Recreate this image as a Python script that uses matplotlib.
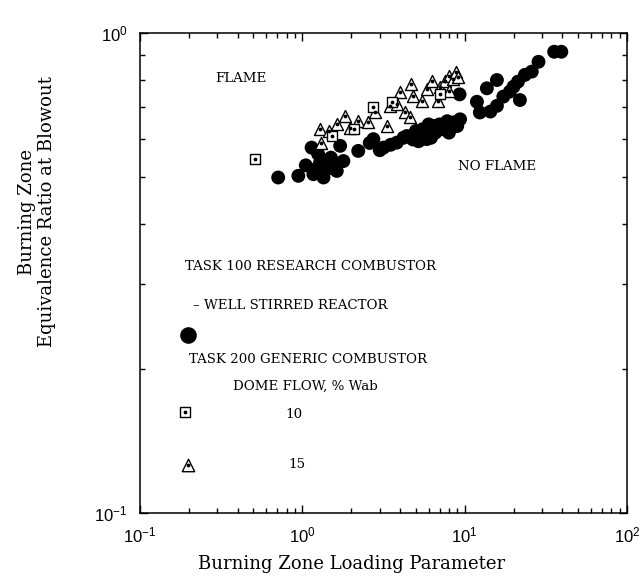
import matplotlib
matplotlib.use("Agg")
import matplotlib.pyplot as plt
from matplotlib.ticker import LogLocator, NullFormatter

# Task 100 research combustor - well stirred reactor (filled circles)
task100_load = [0.71, 0.945, 1.14, 1.17, 1.285, 1.41, 1.63, 1.71, 1.79, 2.21,
                2.74, 3.16, 3.82, 4.40, 5.31, 5.84, 6.41, 7.39, 8.51, 9.37,
                9.3, 12.4, 11.9, 13.7, 15.8, 17.3, 19.0, 20.0, 21.3, 21.9,
                23.5, 25.9, 28.5, 35.6, 39.4, 14.4, 15.8, 1.25, 1.5, 1.05,
                1.35, 1.6, 1.2, 2.6, 3.0, 5.0, 5.5, 6.0, 6.6, 7.0,
                7.8, 8.0, 9.0, 6.2, 4.8, 5.2, 3.5, 4.2]
task100_phi = [0.50, 0.504, 0.577, 0.508, 0.537, 0.520, 0.516, 0.582, 0.541, 0.568,
               0.601, 0.577, 0.591, 0.610, 0.620, 0.601, 0.640, 0.630, 0.651, 0.661,
               0.745, 0.683, 0.719, 0.767, 0.798, 0.737, 0.755, 0.773, 0.792, 0.725,
               0.818, 0.831, 0.871, 0.914, 0.914, 0.686, 0.705, 0.56, 0.55, 0.53,
               0.50, 0.53, 0.52, 0.59, 0.57, 0.625, 0.63, 0.645, 0.62, 0.645,
               0.655, 0.62, 0.64, 0.605, 0.60, 0.595, 0.585, 0.605]

# Task 200 generic combustor, dome flow 10 % Wab (squares)
dome10_load = [0.511, 2.74, 2.07, 3.55, 1.52, 7.06]
dome10_phi = [0.546, 0.700, 0.630, 0.717, 0.610, 0.746]

# Task 200 generic combustor, dome flow 15 % Wab (triangles)
dome15_load = [1.285, 1.31, 1.45, 1.63, 1.83, 1.97, 2.21, 2.54, 2.79, 3.31,
               3.46, 3.82, 3.99, 4.27, 4.70, 4.82, 5.43, 5.84, 6.29, 6.87,
               7.06, 7.59, 7.97, 8.51, 8.89, 9.14, 7.97, 4.62]
dome15_phi = [0.630, 0.591, 0.625, 0.646, 0.672, 0.635, 0.656, 0.651, 0.683, 0.640,
              0.705, 0.711, 0.752, 0.683, 0.783, 0.740, 0.722, 0.764, 0.795, 0.722,
              0.770, 0.795, 0.814, 0.802, 0.828, 0.808, 0.758, 0.667]

serif = ["DejaVu Serif"]
sans = ["Liberation Sans", "DejaVu Sans"]
note_size = 9.6

fig = plt.figure(figsize=(6.44, 5.77), dpi=100)
ax = fig.add_axes([140 / 644, 1 - 513 / 577, 487 / 644, 480 / 577])
ax.set_xscale("log")
ax.set_yscale("log")
ax.set_xlim(0.1, 100)
ax.set_ylim(0.1, 1)

ax.scatter(task100_load, task100_phi, s=100, c="black", edgecolors="none", zorder=2)
ax.scatter(dome15_load, dome15_phi, s=75, marker="^", facecolors="white",
           edgecolors="black", linewidths=1.0, zorder=3)
ax.scatter(dome15_load, dome15_phi, s=3, marker="o", c="black", zorder=4)
ax.scatter(dome10_load, dome10_phi, s=55, marker="s", facecolors="white",
           edgecolors="black", linewidths=1.0, zorder=3)
ax.scatter(dome10_load, dome10_phi, s=3, marker="o", c="black", zorder=4)

# ticks on all four sides, pointing inward
ax.tick_params(which="both", direction="in", top=True, right=True, width=1.0)
ax.tick_params(which="major", length=6, labelsize=12, pad=9)
ax.tick_params(which="minor", length=3.5)
ax.xaxis.set_minor_locator(LogLocator(base=10, subs=range(2, 10)))
ax.yaxis.set_minor_locator(LogLocator(base=10, subs=range(2, 10)))
ax.xaxis.set_minor_formatter(NullFormatter())
ax.yaxis.set_minor_formatter(NullFormatter())
for lab in ax.get_xticklabels() + ax.get_yticklabels():
    lab.set_family(sans)
for sp in ax.spines.values():
    sp.set_linewidth(1.1)

ax.set_xlabel("Burning Zone Loading Parameter", family=serif, fontsize=13)
ax.xaxis.set_label_coords(0.435, -0.088)
ax.set_ylabel("Burning Zone\nEquivalence Ratio at Blowout", family=serif,
              fontsize=13, linespacing=1.15)
ax.yaxis.set_label_coords(-0.172, 0.627)

tr = ax.transAxes
ax.text(0.154, 0.906, "FLAME", transform=tr, family=serif, fontsize=note_size,
        va="center", ha="left")
ax.text(0.653, 0.721, "NO FLAME", transform=tr, family=serif, fontsize=note_size,
        va="center", ha="left")

ax.text(0.092, 0.513, "TASK 100 RESEARCH COMBUSTOR", transform=tr, family=serif,
        fontsize=note_size, va="center", ha="left")
ax.text(0.109, 0.433, "\u2013 WELL STIRRED REACTOR", transform=tr, family=serif,
        fontsize=note_size, va="center", ha="left")
ax.scatter([0.0986], [0.371], s=120, c="black", transform=tr, clip_on=False)
ax.text(0.1006, 0.319, "TASK 200 GENERIC COMBUSTOR", transform=tr, family=serif,
        fontsize=note_size, va="center", ha="left")
ax.text(0.191, 0.263, "DOME FLOW, % Wab", transform=tr, family=serif,
        fontsize=note_size, va="center", ha="left")
ax.scatter([0.0924], [0.210], s=60, marker="s", facecolors="white",
           edgecolors="black", linewidths=1.0, transform=tr)
ax.scatter([0.0924], [0.210], s=3, c="black", transform=tr)
ax.text(0.298, 0.206, "10", transform=tr, family=serif, fontsize=note_size,
        va="center", ha="left")
ax.scatter([0.0986], [0.100], s=80, marker="^", facecolors="white",
           edgecolors="black", linewidths=1.0, transform=tr)
ax.scatter([0.0986], [0.100], s=3, c="black", transform=tr)
ax.text(0.304, 0.102, "15", transform=tr, family=serif, fontsize=note_size,
        va="center", ha="left")

fig.savefig("out.png", dpi=100)
